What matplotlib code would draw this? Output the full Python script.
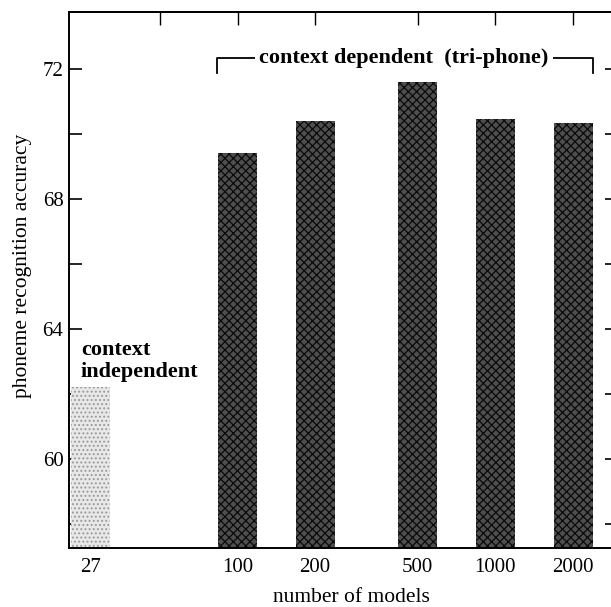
import numpy as np
import matplotlib.pyplot as plt

# data
models = [27, 100, 200, 500, 1000, 2000]
tick_labels = ["27", "100", "200", "500", "1000", "2000"]
accuracy = [62.2, 69.4, 70.4, 71.6, 70.45, 70.35]
top_ticks = [50, 100, 200, 500, 1000, 2000]

plt.rcParams['font.family'] = ['Liberation Serif', 'DejaVu Serif']
plt.rcParams['hatch.linewidth'] = 0.9

fig = plt.figure(figsize=(6.11, 6.07), dpi=100)
ax = fig.add_axes([69 / 611, 59 / 607, 548 / 611, 536.3 / 607])

ymin, ymax = 57.26, 73.76
ax.set_xscale('log')
ax.set_xlim(22.2, 2962)
ax.set_ylim(ymin, ymax)

# bars: constant width in log space
half = 0.0756
for i, (m, acc) in enumerate(zip(models, accuracy)):
    left = m * 10 ** -half
    width = m * (10 ** half - 10 ** -half)
    if i == 0:
        face, hcol, hatch = '#e8e8e8', '#9a9a9a', '....'
    else:
        face, hcol, hatch = '#4e4e4e', '#0a0a0a', 'xxxx'
    ax.bar(left, acc - ymin, width=width, bottom=ymin, align='edge',
           color=face, edgecolor=hcol, hatch=hatch, linewidth=0, zorder=2)

# axes styling
for side in ['left', 'top', 'bottom', 'right']:
    ax.spines[side].set_linewidth(1.4)

ax.set_xticks(models)
ax.set_xticklabels(tick_labels, fontsize=15)
ax.xaxis.set_minor_locator(plt.NullLocator())
ax.tick_params(axis='x', which='major', direction='in', length=10, width=1.2, pad=7)

ax.set_yticks([60, 64, 68, 72])
ax.set_yticks([58, 62, 66, 70], minor=True)
ax.tick_params(axis='y', which='both', direction='in', length=9, width=1.2,
               right=True, labelsize=15, pad=4)

sec = ax.secondary_xaxis('top')
sec.set_xticks(top_ticks)
sec.set_xticklabels([])
sec.xaxis.set_minor_locator(plt.NullLocator())
sec.tick_params(direction='in', length=9.5, width=1.0)
sec.spines['top'].set_linewidth(1.4)

ax.set_xlabel("number of models", fontsize=15.5)
ax.xaxis.set_label_coords(0.516, -0.075)
ax.set_ylabel("phoneme recognition accuracy", fontsize=15.5)
ax.yaxis.set_label_coords(-0.068, 0.526)

# bracket over the context dependent models
bx = [83.3, 83.3, 2390, 2390]
by = [71.86, 72.34, 72.34, 71.86]
ax.plot(bx, by, color='black', linewidth=1.3, zorder=3)
ax.text(442, 72.34, "context dependent  (tri-phone)", ha='center', va='center',
        fontsize=16, fontweight='bold', zorder=4,
        bbox=dict(facecolor='white', edgecolor='none', pad=3))

ax.text(24.7, 63.2, "context", ha='left', va='baseline',
        fontsize=16, fontweight='bold', zorder=4)
ax.text(24.7, 62.52, "independent", ha='left', va='baseline',
        fontsize=16, fontweight='bold', zorder=4)

fig.savefig("out.png", dpi=100)
